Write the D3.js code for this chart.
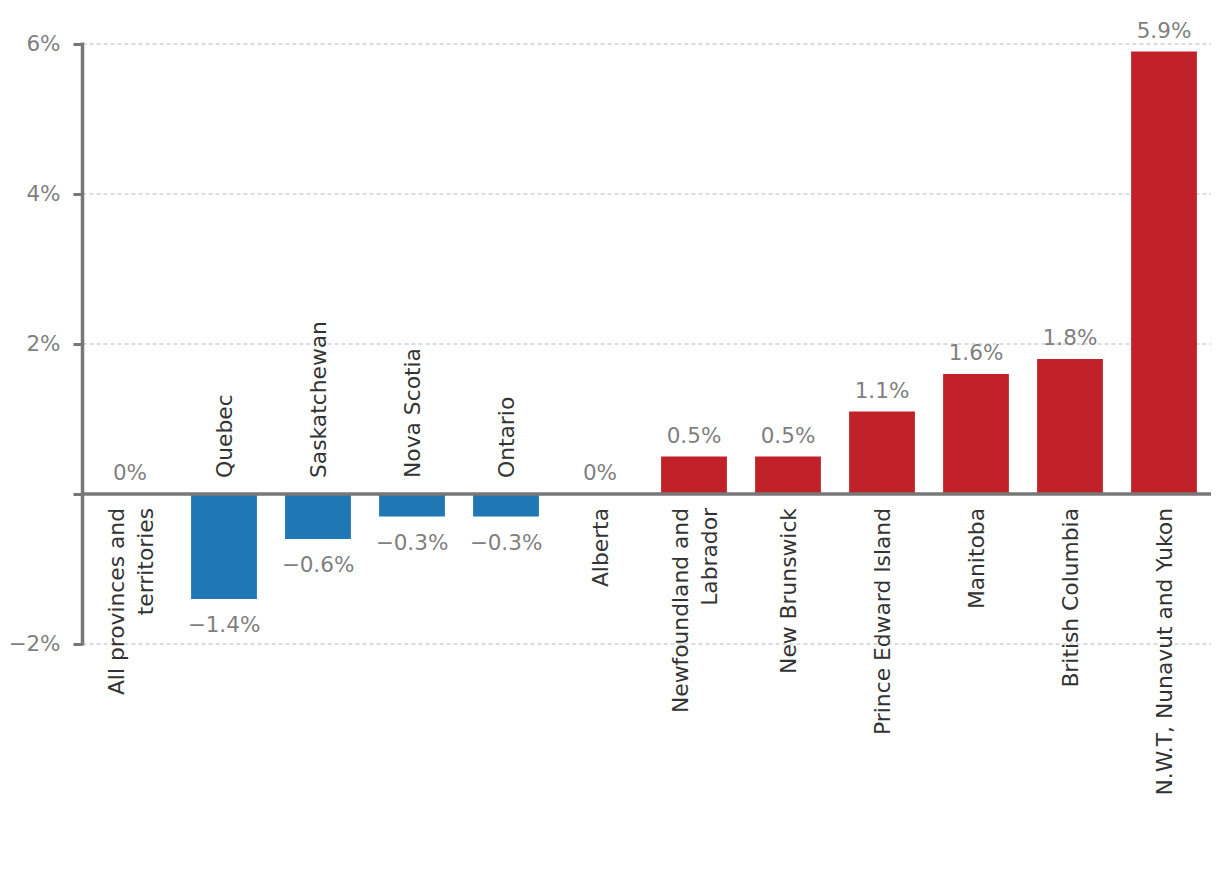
<!DOCTYPE html>
<html>
<head>
<meta charset="utf-8">
<script src="https://cdn.jsdelivr.net/npm/d3@7"></script>
<style>
  html, body { margin: 0; padding: 0; background: #fff; }
  svg { display: block; }
</style>
</head>
<body>
<svg id="chart" width="1220" height="888"></svg>
<script>
const categories = [
  "All provinces and\nterritories", "Quebec", "Saskatchewan", "Nova Scotia", "Ontario",
  "Alberta", "Newfoundland and\nLabrador", "New Brunswick", "Prince Edward Island",
  "Manitoba", "British Columbia", "N.W.T, Nunavut and Yukon"
];
const values = [0, -1.4, -0.6, -0.3, -0.3, 0, 0.5, 0.5, 1.1, 1.6, 1.8, 5.9];
const valueLabels = ["0%", "−1.4%", "−0.6%", "−0.3%", "−0.3%", "0%", "0.5%", "0.5%", "1.1%", "1.6%", "1.8%", "5.9%"];
const yTicks = [-2, 2, 4, 6];
const yTickLabels = ["−2%", "2%", "4%", "6%"];

const svg = d3.select("#chart");
const axisX = 82.5, gridRight = 1211;
const y = d3.scaleLinear().domain([-2, 6]).range([644, 44]);
const x = d3.scaleBand().domain(categories).range([83, 1211]).paddingInner(0.3).paddingOuter(0.15);

const valueFont = "'DejaVu Sans', sans-serif";
const catFont = "'DejaVu Sans', sans-serif";
const valueColor = "#7f7f7f";

// gridlines
svg.append("g").selectAll("line").data(yTicks).join("line")
  .attr("x1", axisX).attr("x2", gridRight)
  .attr("y1", d => y(d)).attr("y2", d => y(d))
  .attr("stroke", "#b0bcc4").attr("stroke-width", 1.2).attr("stroke-dasharray", "4,3");

// bars
svg.append("g").selectAll("rect").data(values).join("rect")
  .attr("x", (d, i) => x(categories[i]))
  .attr("width", x.bandwidth())
  .attr("y", d => y(Math.max(0, d)))
  .attr("height", d => Math.abs(y(d) - y(0)))
  .attr("fill", d => d < 0 ? "#1f77b4" : "#c1222a");

// y axis
const yAxis = d3.axisLeft(y).tickValues([-2, 0, 2, 4, 6]).tickSize(9).tickPadding(13)
  .tickFormat(d => { const i = yTicks.indexOf(d); return i >= 0 ? yTickLabels[i] : ""; });
const gy = svg.append("g").attr("transform", `translate(${axisX},0)`).call(yAxis);
gy.select(".domain").remove();
gy.selectAll(".tick line").attr("stroke", "#777").attr("stroke-width", 3);
gy.selectAll(".tick text").attr("fill", valueColor).style("font-family", valueFont)
  .style("font-size", "21.5px");
svg.append("line").attr("x1", axisX).attr("x2", axisX).attr("y1", y(6) - 1.5).attr("y2", y(-2) + 1.5)
  .attr("stroke", "#777").attr("stroke-width", 3.5);
// zero line
svg.append("line").attr("x1", axisX).attr("x2", gridRight).attr("y1", y(0)).attr("y2", y(0))
  .attr("stroke", "#777").attr("stroke-width", 3.5);

// value labels
svg.append("g").selectAll("text").data(values).join("text")
  .attr("x", (d, i) => x(categories[i]) + x.bandwidth() / 2)
  .attr("y", d => d < 0 ? y(d) + 33 : y(d) - 14)
  .attr("text-anchor", "middle")
  .attr("fill", valueColor).style("font-family", valueFont).style("font-size", "21.5px")
  .text((d, i) => valueLabels[i]);

// category labels (rotated)
const lh = 29;
const cg = svg.append("g").selectAll("text").data(categories).join("text")
  .attr("transform", (c, i) => {
    const cx = x(c) + x.bandwidth() / 2;
    const yy = values[i] < 0 ? y(0) - 16 : y(0) + 14;
    return `translate(${cx},${yy}) rotate(-90)`;
  })
  .attr("text-anchor", (c, i) => values[i] < 0 ? "start" : "end")
  .attr("fill", "#333").style("font-family", catFont).style("font-size", "21.8px");
cg.each(function (c) {
  const lines = c.split("\n");
  const t = d3.select(this);
  lines.forEach((ln, k) => {
    t.append("tspan").attr("x", 0)
      .attr("y", (k - (lines.length - 1) / 2) * lh + 8)
      .text(ln);
  });
});
</script>
</body>
</html>
